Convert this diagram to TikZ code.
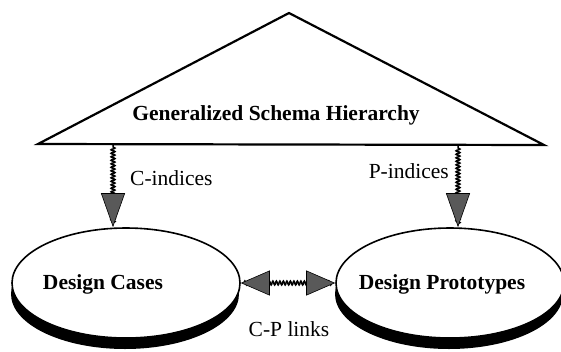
\documentclass[tikz,border=0pt]{standalone}
\usepackage{fontspec}
\setmainfont{LiberationSerif}[Extension=.ttf, UprightFont=*-Regular, BoldFont=*-Bold, ItalicFont=*-Italic, BoldItalicFont=*-BoldItalic]
\usetikzlibrary{arrows.meta,decorations.pathmorphing,shapes.geometric,shadows}

\begin{document}
\begin{tikzpicture}[x=1pt, y=-1pt,
    every node/.style={font=\rmfamily\fontsize{21.5}{24}\selectfont, inner sep=0pt},
    title/.style={font=\rmfamily\fontsize{21.5}{24}\selectfont\bfseries},
    disc/.style={ellipse, draw, line width=1.6pt, fill=white,
      minimum width=228pt, minimum height=110pt,
      drop shadow={shadow xshift=-1pt, shadow yshift=-11pt, fill=black, opacity=1}},
    wiggly/.style={line width=1.5pt, decorate,
      decoration={snake, amplitude=2pt, segment length=3.5pt, pre length=3pt, post length=3pt}},
    index/.style={wiggly, -{Triangle[length=34pt, width=24pt, line width=0.6pt, fill=black!65]}},
    link/.style={wiggly, {Triangle[length=29pt, width=25pt, line width=0.6pt, fill=black!65]}-{Triangle[length=29pt, width=25pt, line width=0.6pt, fill=black!65]}}]
  \useasboundingbox (0,0) rectangle (561,351);
  \coordinate (bl) at (38,144);
  \coordinate (apex) at (289,13);
  \coordinate (br) at (544,145);
  \draw[line width=2.2pt] (bl) -- (apex) -- (br) -- cycle;
  \node[title, anchor=base] (gsh) at (276,120) {Generalized Schema Hierarchy};

  \node[disc] (cases) at (126,283) {};
  \node[disc] (protos) at (450,283) {};
  \node[title, anchor=base] (casesname) at (103,289) {Design Cases};
  \node[title, anchor=base] (protosname) at (442,289) {Design Prototypes};

  \coordinate (cidx) at (113,144);
  \coordinate (pidx) at (458,145);
  \foreach \c/\d in {cidx/cases, pidx/protos} {
    \draw[index] (\c) -- (\c |- \d.north);
  };
  \draw[link] (cases.east) -- (protos.west);

  \node[anchor=base west] (cindices) at (130,185) {C-indices};
  \node[anchor=base east] (pindices) at (449,178) {P-indices};
  \node[anchor=base] (cplinks) at (289,336) {C-P links};
\end{tikzpicture}
\end{document}
